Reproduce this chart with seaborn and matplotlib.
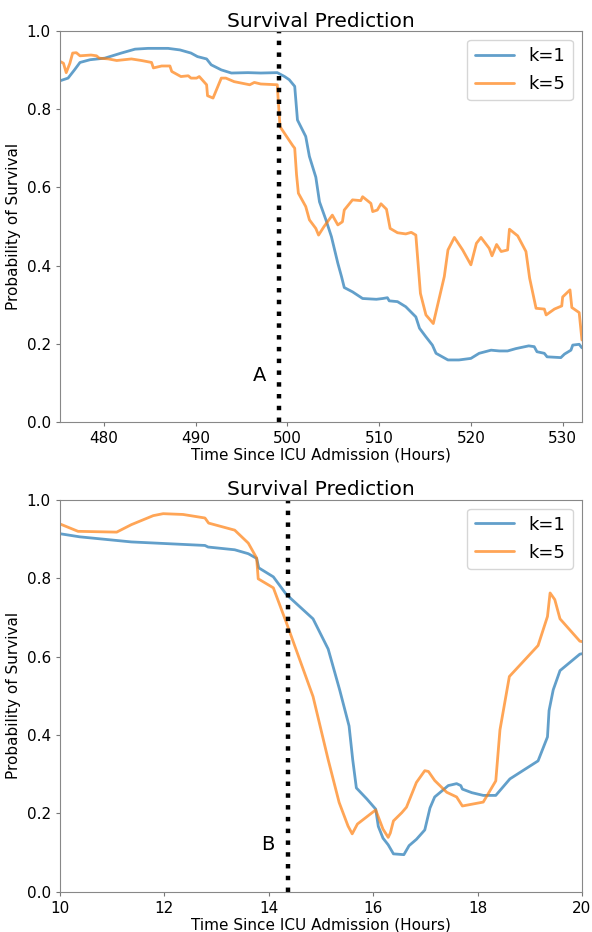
import numpy as np
import pandas as pd
import seaborn as sns
import matplotlib
matplotlib.use('Agg')
import matplotlib.pyplot as plt

# --- top panel (patient A) ---
a_k1_hours = [475.2, 476.1, 476.8, 477.4, 478.5, 480.1, 481.9, 483.4, 484.8, 487.0, 488.3,
              489.5, 490.2, 491.2, 491.7, 492.8, 493.9, 495.7, 497.1, 498.9, 499.7, 500.2,
              500.8, 501.1, 502.0, 502.4, 503.1, 503.5, 504.2, 504.8, 505.5, 505.9, 506.2,
              507.1, 508.2, 509.7, 510.4, 510.9, 511.1, 512.0, 512.9, 514.0, 514.4, 515.1,
              515.8, 516.2, 517.5, 518.7, 520.0, 520.9, 522.2, 523.1, 524.0, 524.9, 526.3,
              526.9, 527.2, 528.0, 528.3, 529.8, 530.2, 530.9, 531.1, 531.8, 532.1]
a_k1_prob = [0.872, 0.879, 0.900, 0.919, 0.926, 0.930, 0.943, 0.953, 0.955, 0.955, 0.951,
             0.943, 0.934, 0.928, 0.913, 0.900, 0.892, 0.893, 0.892, 0.893, 0.883, 0.875,
             0.858, 0.772, 0.730, 0.679, 0.626, 0.563, 0.517, 0.474, 0.406, 0.372, 0.344,
             0.333, 0.316, 0.314, 0.316, 0.318, 0.310, 0.308, 0.295, 0.269, 0.240, 0.218,
             0.197, 0.176, 0.159, 0.159, 0.163, 0.176, 0.184, 0.182, 0.182, 0.188, 0.195,
             0.193, 0.180, 0.176, 0.167, 0.165, 0.174, 0.184, 0.197, 0.199, 0.190]

a_k5_hours = [475.2, 475.6, 475.9, 476.3, 476.6, 477.0, 477.4, 478.6, 479.2, 479.5, 480.5,
              481.4, 483.0, 484.1, 485.2, 485.4, 486.3, 487.2, 487.4, 488.4, 489.2, 489.5,
              490.1, 490.4, 491.2, 491.3, 491.9, 492.8, 493.3, 494.2, 495.9, 496.4, 497.1,
              498.9, 499.0, 499.2, 499.8, 500.6, 500.8, 501.0, 501.2, 502.0, 502.4, 503.1,
              503.4, 504.0, 504.9, 505.5, 506.0, 506.2, 507.1, 508.0, 508.2, 509.1, 509.3,
              509.8, 510.2, 510.8, 511.2, 512.0, 512.9, 513.5, 514.0, 514.5, 515.1, 515.9,
              517.1, 517.5, 518.2, 519.1, 520.0, 520.6, 521.1, 522.0, 522.3, 522.8, 523.3,
              524.0, 524.2, 525.1, 526.0, 526.4, 527.1, 528.0, 528.2, 529.1, 529.9, 530.0,
              530.8, 531.0, 531.8, 532.1]
a_k5_prob = [0.922, 0.917, 0.893, 0.917, 0.943, 0.944, 0.936, 0.938, 0.936, 0.930, 0.928,
             0.924, 0.928, 0.924, 0.919, 0.905, 0.910, 0.910, 0.896, 0.883, 0.885, 0.879,
             0.879, 0.883, 0.862, 0.834, 0.828, 0.879, 0.879, 0.870, 0.862, 0.868, 0.864,
             0.862, 0.824, 0.755, 0.734, 0.706, 0.700, 0.632, 0.585, 0.551, 0.517, 0.495,
             0.478, 0.500, 0.529, 0.504, 0.512, 0.542, 0.568, 0.566, 0.576, 0.559, 0.538,
             0.542, 0.558, 0.544, 0.495, 0.484, 0.481, 0.485, 0.478, 0.329, 0.274, 0.252,
             0.372, 0.440, 0.472, 0.440, 0.402, 0.457, 0.472, 0.444, 0.425, 0.454, 0.436,
             0.440, 0.493, 0.476, 0.436, 0.368, 0.291, 0.289, 0.274, 0.289, 0.297, 0.320,
             0.338, 0.293, 0.280, 0.210]

# --- bottom panel (patient B) ---
b_k1_hours = [10.0, 10.38, 11.37, 12.78, 12.84, 13.35, 13.61, 13.77, 13.81, 14.09, 14.34,
              14.85, 15.14, 15.36, 15.54, 15.61, 15.68, 15.88, 16.05, 16.10, 16.19, 16.29,
              16.39, 16.59, 16.69, 16.83, 16.99, 17.09, 17.18, 17.44, 17.60, 17.68, 17.71,
              17.89, 18.11, 18.35, 18.62, 19.16, 19.34, 19.37, 19.45, 19.58, 19.96, 20.0]
b_k1_prob = [0.913, 0.905, 0.892, 0.883, 0.879, 0.872, 0.862, 0.850, 0.826, 0.803, 0.758,
             0.696, 0.619, 0.515, 0.423, 0.337, 0.265, 0.237, 0.211, 0.167, 0.137, 0.120,
             0.097, 0.095, 0.118, 0.134, 0.158, 0.214, 0.242, 0.271, 0.276, 0.271, 0.262,
             0.253, 0.246, 0.246, 0.288, 0.334, 0.395, 0.462, 0.515, 0.564, 0.606, 0.607]

b_k5_hours = [10.0, 10.35, 11.09, 11.37, 11.79, 11.98, 12.36, 12.78, 12.85, 13.35, 13.61,
              13.77, 13.80, 14.09, 14.34, 14.85, 15.14, 15.35, 15.52, 15.60, 15.70, 16.05,
              16.19, 16.29, 16.33, 16.39, 16.55, 16.64, 16.83, 16.99, 17.06, 17.18, 17.41,
              17.60, 17.71, 18.11, 18.35, 18.43, 18.61, 19.16, 19.34, 19.39, 19.48, 19.58,
              19.96, 20.0]
b_k5_prob = [0.938, 0.919, 0.917, 0.936, 0.959, 0.964, 0.962, 0.953, 0.940, 0.922, 0.889,
             0.851, 0.798, 0.775, 0.686, 0.498, 0.337, 0.228, 0.168, 0.148, 0.173, 0.209,
             0.160, 0.139, 0.150, 0.181, 0.202, 0.216, 0.279, 0.309, 0.307, 0.284, 0.254,
             0.242, 0.219, 0.229, 0.283, 0.413, 0.549, 0.628, 0.702, 0.762, 0.745, 0.696,
             0.639, 0.638]

panels = [
    dict(k1=(a_k1_hours, a_k1_prob), k5=(a_k5_hours, a_k5_prob),
         xlim=(475.2, 532.1), vline=499.1, label='A', label_pos=(497.0, 0.12)),
    dict(k1=(b_k1_hours, b_k1_prob), k5=(b_k5_hours, b_k5_prob),
         xlim=(10, 20), vline=14.37, label='B', label_pos=(13.98, 0.12)),
]

sns.set_style('white', {'text.color': 'black', 'axes.labelcolor': 'black'})
plt.rcParams['font.family'] = ['DejaVu Sans']

fig = plt.figure(figsize=(5.92, 9.32), dpi=100)
boxes = [[0.101, 0.547, 0.882, 0.420], [0.101, 0.043, 0.882, 0.421]]

for box, p in zip(boxes, panels):
    ax = fig.add_axes(box)
    df = pd.concat([
        pd.DataFrame({'hours': p['k1'][0], 'prob': p['k1'][1], 'model': 'k=1'}),
        pd.DataFrame({'hours': p['k5'][0], 'prob': p['k5'][1], 'model': 'k=5'}),
    ])
    sns.lineplot(data=df, x='hours', y='prob', hue='model', sort=False,
                 palette=['tab:blue', 'tab:orange'], alpha=0.7, linewidth=2, ax=ax)
    ax.axvline(p['vline'], color='black', linestyle=':', linewidth=3.2)
    ax.text(p['label_pos'][0], p['label_pos'][1], p['label'], fontsize=14,
            ha='center', va='center', color='black')
    ax.set_xlim(*p['xlim'])
    ax.set_ylim(0, 1)
    ax.set_title('Survival Prediction', fontsize=14.5, pad=3, color='black')
    ax.set_xlabel('Time Since ICU Admission (Hours)', fontsize=11, labelpad=1)
    ax.set_ylabel('Probability of Survival', fontsize=11)
    ax.tick_params(axis='both', labelsize=11, length=3, color='#777777',
                   labelcolor='black', left=True, bottom=True)
    for s in ax.spines.values():
        s.set_color('#888888')
    leg = ax.legend(loc='upper right', fontsize=13, title=None, handlelength=2.2,
                    labelspacing=0.55)
    for t in leg.get_texts():
        t.set_color('black')

fig.savefig('out.png', dpi=100)
